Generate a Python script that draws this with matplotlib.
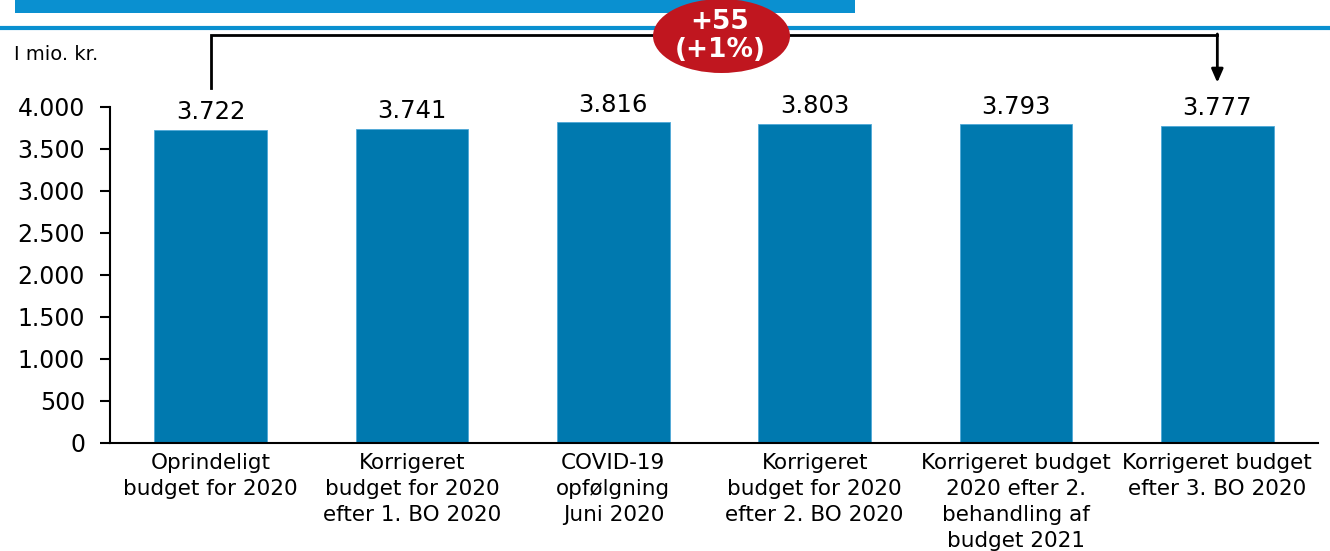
import matplotlib.pyplot as plt
import numpy as np
from matplotlib.patches import Ellipse, Rectangle
from matplotlib.lines import Line2D

categories = ["Oprindeligt\nbudget for 2020",
              "Korrigeret\nbudget for 2020\nefter 1. BO 2020",
              "COVID-19\nopfølgning\nJuni 2020",
              "Korrigeret\nbudget for 2020\nefter 2. BO 2020",
              "Korrigeret budget\n2020 efter 2.\nbehandling af\nbudget 2021",
              "Korrigeret budget\nefter 3. BO 2020"]
values = [3722, 3741, 3816, 3803, 3793, 3777]
value_labels = ["3.722", "3.741", "3.816", "3.803", "3.793", "3.777"]
yticks = [0, 500, 1000, 1500, 2000, 2500, 3000, 3500, 4000]
ytick_labels = ["0", "500", "1.000", "1.500", "2.000", "2.500", "3.000", "3.500", "4.000"]
change_text = "+55\n(+1%)"

bar_color = "#0079AF"
top_blue = "#0A90D0"
red = "#C0161F"

plt.rcParams['font.family'] = ['DejaVu Sans']

fig = plt.figure(figsize=(13.3, 5.51), dpi=100)
W, H = 1330, 551
ax = fig.add_axes([110 / W, (H - 443) / H, 1208 / W, 336 / H])

x = np.arange(len(values))
ax.bar(x, values, width=0.56, color=bar_color, edgecolor="#4FA8D8", linewidth=0.6)
ax.set_xlim(-0.5, len(values) - 0.5)
ax.set_ylim(0, 4000)
ax.set_yticks(yticks)
ax.set_yticklabels(ytick_labels, fontsize=17)
ax.set_xticks(x)
ax.set_xticklabels(categories, fontsize=15.5, linespacing=1.38)
ax.tick_params(axis='x', length=0, pad=7)
ax.tick_params(axis='y', length=7, width=1.5, pad=11)
for s in ["top", "right"]:
    ax.spines[s].set_visible(False)
ax.spines["left"].set_linewidth(1.5)
ax.spines["bottom"].set_linewidth(1.5)

for xi, v, lab in zip(x, values, value_labels):
    ax.text(xi, v + 70, lab, ha="center", va="bottom", fontsize=17.5, clip_on=False)

# bracket from first to last bar
y_top = 4857
ax.plot([0, 0, len(values) - 1], [4226, y_top, y_top], color="black", lw=2,
        clip_on=False, solid_joinstyle="miter")
ax.annotate("", xy=(len(values) - 1, 4290), xytext=(len(values) - 1, y_top + 12),
            arrowprops=dict(arrowstyle="-|>,head_width=0.35,head_length=0.8",
                            color="black", lw=2, shrinkA=0, shrinkB=0),
            annotation_clip=False)

# header decorations
fig.add_artist(Rectangle((15 / W, 1 - 13 / H), 840 / W, 20 / H, transform=fig.transFigure,
                         facecolor=top_blue, edgecolor="none"))
fig.add_artist(Line2D([0, 1], [1 - 28 / H, 1 - 28 / H], transform=fig.transFigure,
                      color=top_blue, lw=3))
fig.text(14 / W, 1 - 55 / H, "I mio. kr.", fontsize=14, va="center", ha="left")

fig.add_artist(Ellipse((7.215, 5.15), 1.37, 0.74, transform=fig.dpi_scale_trans,
                       facecolor=red, edgecolor="none", zorder=5))
fig.text(720 / W, 1 - 36 / H, change_text, ha="center", va="center", fontsize=19,
         fontweight="bold", color="white", linespacing=1.1, zorder=6)

fig.savefig("out.png", dpi=100)
